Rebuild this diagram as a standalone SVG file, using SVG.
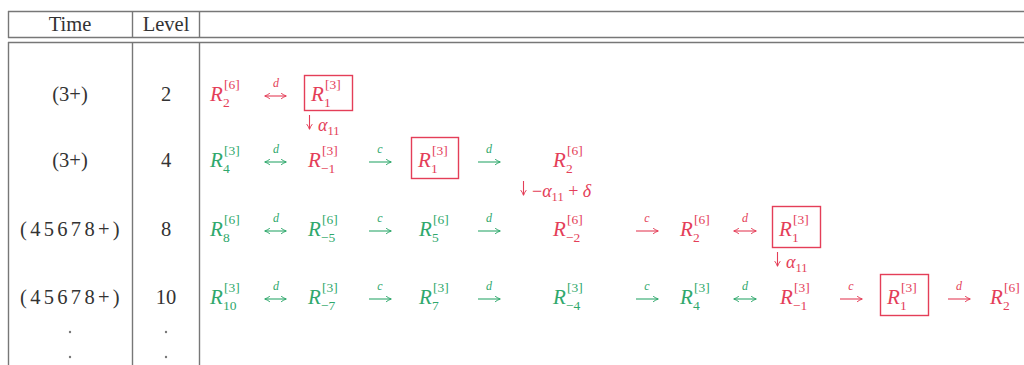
<svg xmlns="http://www.w3.org/2000/svg" width="1024" height="365" viewBox="0 0 1024 365">
<style>
.bg{fill:#fff}
.tl{stroke:#777;stroke-width:1.4;fill:none}
.hd{font-family:"Liberation Serif",serif;font-size:20.5px;fill:#333;text-anchor:middle}
.r{fill:#e43e58}
.g{fill:#2fa86c}
.m{font-family:"Liberation Serif",serif;font-style:italic;font-size:21px}
.s{font-family:"Liberation Serif",serif;font-size:13.5px}
.lb{font-family:"Liberation Serif",serif;font-style:italic;font-size:12px;text-anchor:middle}
.ar{stroke-width:1.1;fill:none}
.ar.r{stroke:#e43e58;fill:none}
.ar.g{stroke:#2fa86c;fill:none}
.bx{fill:none;stroke:#e43e58;stroke-width:1.4}
.dt{fill:#777}
</style>
<defs>
<marker id="ahr" viewBox="0 0 10 10" refX="9" refY="5" markerWidth="7" markerHeight="7" markerUnits="userSpaceOnUse" orient="auto-start-reverse"><path d="M2,1 Q6,4 9.5,5 Q6,6 2,9" fill="none" stroke="#e43e58" stroke-width="1.4"/></marker>
<marker id="ahg" viewBox="0 0 10 10" refX="9" refY="5" markerWidth="7" markerHeight="7" markerUnits="userSpaceOnUse" orient="auto-start-reverse"><path d="M2,1 Q6,4 9.5,5 Q6,6 2,9" fill="none" stroke="#2fa86c" stroke-width="1.4"/></marker>
</defs>
<rect class="bg" width="1024" height="365"/>
<g id="table">
<line class="tl" x1="8" y1="11.5" x2="1024" y2="11.5"/>
<line class="tl" x1="8" y1="37.5" x2="1024" y2="37.5"/>
<line class="tl" x1="8" y1="42.5" x2="1024" y2="42.5"/>
<line class="tl" x1="8.5" y1="11" x2="8.5" y2="38"/>
<line class="tl" x1="8.5" y1="42" x2="8.5" y2="365"/>
<line class="tl" x1="132.5" y1="11" x2="132.5" y2="38"/>
<line class="tl" x1="132.5" y1="42" x2="132.5" y2="365"/>
<line class="tl" x1="199.5" y1="11" x2="199.5" y2="38"/>
<line class="tl" x1="199.5" y1="42" x2="199.5" y2="365"/>
<text class="hd" x="70" y="31">Time</text>
<text class="hd" x="166" y="31">Level</text>
<text class="hd" x="70" y="101">(3+)</text>
<text class="hd" x="166" y="101">2</text>
<text class="hd" x="70" y="167">(3+)</text>
<text class="hd" x="166" y="167">4</text>
<text class="hd" x="71.5" y="236" letter-spacing="3.3">(45678+)</text>
<text class="hd" x="166" y="236">8</text>
<text class="hd" x="71.5" y="304" letter-spacing="3.3">(45678+)</text>
<text class="hd" x="166" y="304">10</text>
<circle class="dt" cx="70" cy="332" r="1.2"/>
<circle class="dt" cx="70" cy="357" r="1.2"/>
<circle class="dt" cx="166" cy="332" r="1.2"/>
<circle class="dt" cx="166" cy="357" r="1.2"/>
</g>
<g id="row1">
<g id="r1a" class="r"><text class="m" x="210" y="101">R</text><text class="s" x="223" y="107">2</text><text class="s" x="224" y="89">[6]</text></g>
<g id="r1b" class="r"><rect class="bx" x="304.5" y="75.5" width="48" height="35"/><text class="m" x="311" y="101">R</text><text class="s" x="324" y="107">1</text><text class="s" x="325" y="89">[3]</text></g>
<text class="r" x="318" y="131" font-family="Liberation Serif, serif" font-size="18"><tspan font-style="italic">α</tspan><tspan font-size="12.5" dy="4">11</tspan></text>
</g>
<g id="row2">
<g id="r2a" class="g"><text class="m" x="210" y="167">R</text><text class="s" x="223" y="173">4</text><text class="s" x="224" y="155">[3]</text></g>
<g id="r2b" class="r"><text class="m" x="308" y="167">R</text><text class="s" x="321" y="173">−1</text><text class="s" x="322" y="155">[3]</text></g>
<g id="r2c" class="r"><rect class="bx" x="411.5" y="137.5" width="47" height="41"/><text class="m" x="418" y="167">R</text><text class="s" x="431" y="173">1</text><text class="s" x="432" y="155">[3]</text></g>
<g id="r2d" class="r"><text class="m" x="553" y="167">R</text><text class="s" x="566" y="173">2</text><text class="s" x="567" y="155">[6]</text></g>
<text class="r" x="532" y="197" font-family="Liberation Serif, serif" font-size="18">−<tspan font-style="italic">α</tspan><tspan font-size="12.5" dy="4">11</tspan><tspan dy="-4"> + </tspan><tspan font-style="italic">δ</tspan></text>
</g>
<g id="row3">
<g id="r3a" class="g"><text class="m" x="210" y="236">R</text><text class="s" x="223" y="242">8</text><text class="s" x="224" y="224">[6]</text></g>
<g id="r3b" class="g"><text class="m" x="308" y="236">R</text><text class="s" x="321" y="242">−5</text><text class="s" x="322" y="224">[6]</text></g>
<g id="r3c" class="g"><text class="m" x="419" y="236">R</text><text class="s" x="432" y="242">5</text><text class="s" x="433" y="224">[6]</text></g>
<g id="r3d" class="r"><text class="m" x="553" y="236">R</text><text class="s" x="566" y="242">−2</text><text class="s" x="567" y="224">[6]</text></g>
<g id="r3e" class="r"><text class="m" x="680" y="236">R</text><text class="s" x="693" y="242">2</text><text class="s" x="694" y="224">[6]</text></g>
<g id="r3f" class="r"><rect class="bx" x="772.5" y="206.5" width="48" height="41"/><text class="m" x="779" y="236">R</text><text class="s" x="792" y="242">1</text><text class="s" x="793" y="224">[3]</text></g>
<text class="r" x="786" y="268" font-family="Liberation Serif, serif" font-size="18"><tspan font-style="italic">α</tspan><tspan font-size="12.5" dy="4">11</tspan></text>
</g>
<g id="row4">
<g id="r4a" class="g"><text class="m" x="210" y="304">R</text><text class="s" x="223" y="310">10</text><text class="s" x="224" y="292">[3]</text></g>
<g id="r4b" class="g"><text class="m" x="308" y="304">R</text><text class="s" x="321" y="310">−7</text><text class="s" x="322" y="292">[3]</text></g>
<g id="r4c" class="g"><text class="m" x="419" y="304">R</text><text class="s" x="432" y="310">7</text><text class="s" x="433" y="292">[3]</text></g>
<g id="r4d" class="g"><text class="m" x="553" y="304">R</text><text class="s" x="566" y="310">−4</text><text class="s" x="567" y="292">[3]</text></g>
<g id="r4e" class="g"><text class="m" x="680" y="304">R</text><text class="s" x="693" y="310">4</text><text class="s" x="694" y="292">[3]</text></g>
<g id="r4f" class="r"><text class="m" x="780" y="304">R</text><text class="s" x="793" y="310">−1</text><text class="s" x="794" y="292">[3]</text></g>
<g id="r4g" class="r"><rect class="bx" x="880.5" y="274.5" width="48" height="41"/><text class="m" x="887" y="304">R</text><text class="s" x="900" y="310">1</text><text class="s" x="901" y="292">[3]</text></g>
<g id="r4h" class="r"><text class="m" x="990" y="304">R</text><text class="s" x="1003" y="310">2</text><text class="s" x="1004" y="292">[6]</text></g>
</g>
<g id="connectors">
<line class="ar r" x1="265" y1="96" x2="286" y2="96" marker-start="url(#ahr)" marker-end="url(#ahr)"/><text class="lb r" x="276" y="87">d</text>
<line class="ar r" x1="309.5" y1="115" x2="309.5" y2="129" marker-end="url(#ahr)"/>

<line class="ar g" x1="265" y1="162" x2="286" y2="162" marker-start="url(#ahg)" marker-end="url(#ahg)"/><text class="lb g" x="276" y="153">d</text>
<line class="ar g" x1="369" y1="162" x2="391" y2="162" marker-end="url(#ahg)"/><text class="lb g" x="380" y="153">c</text>
<line class="ar g" x1="478" y1="162" x2="500" y2="162" marker-end="url(#ahg)"/><text class="lb g" x="489" y="153">d</text>
<line class="ar r" x1="523.5" y1="181" x2="523.5" y2="195" marker-end="url(#ahr)"/>

<line class="ar g" x1="265" y1="231" x2="286" y2="231" marker-start="url(#ahg)" marker-end="url(#ahg)"/><text class="lb g" x="276" y="222">d</text>
<line class="ar g" x1="369" y1="231" x2="391" y2="231" marker-end="url(#ahg)"/><text class="lb g" x="380" y="222">c</text>
<line class="ar g" x1="478" y1="231" x2="500" y2="231" marker-end="url(#ahg)"/><text class="lb g" x="489" y="222">d</text>
<line class="ar r" x1="636" y1="231" x2="658" y2="231" marker-end="url(#ahr)"/><text class="lb r" x="647" y="222">c</text>
<line class="ar r" x1="734" y1="231" x2="756" y2="231" marker-start="url(#ahr)" marker-end="url(#ahr)"/><text class="lb r" x="745" y="222">d</text>
<line class="ar r" x1="777.5" y1="252" x2="777.5" y2="266" marker-end="url(#ahr)"/>

<line class="ar g" x1="265" y1="299" x2="286" y2="299" marker-start="url(#ahg)" marker-end="url(#ahg)"/><text class="lb g" x="276" y="290">d</text>
<line class="ar g" x1="369" y1="299" x2="391" y2="299" marker-end="url(#ahg)"/><text class="lb g" x="380" y="290">c</text>
<line class="ar g" x1="478" y1="299" x2="500" y2="299" marker-end="url(#ahg)"/><text class="lb g" x="489" y="290">d</text>
<line class="ar g" x1="636" y1="299" x2="658" y2="299" marker-end="url(#ahg)"/><text class="lb g" x="647" y="290">c</text>
<line class="ar g" x1="734" y1="299" x2="756" y2="299" marker-start="url(#ahg)" marker-end="url(#ahg)"/><text class="lb g" x="745" y="290">d</text>
<line class="ar r" x1="840" y1="299" x2="862" y2="299" marker-end="url(#ahr)"/><text class="lb r" x="851" y="290">c</text>
<line class="ar r" x1="948" y1="299" x2="970" y2="299" marker-end="url(#ahr)"/><text class="lb r" x="959" y="290">d</text>
</g>
</svg>
